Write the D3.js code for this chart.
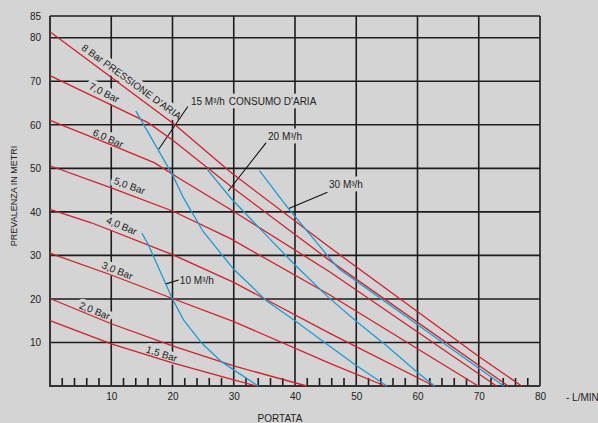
<!DOCTYPE html>
<html>
<head>
<meta charset="utf-8">
<script src="https://cdn.jsdelivr.net/npm/d3@7"></script>
<style>
  html, body { margin: 0; padding: 0; background: #d4d4d4; }
  svg { display: block; font-family: "Liberation Sans", Arial, sans-serif; }
  .grid { stroke: #1c1c1c; stroke-width: 1.6; }
  .axis-line { stroke: #333; stroke-width: 2; }
  .tick-lbl { font-size: 10px; fill: #222; }
  .note { font-size: 10px; fill: #222; paint-order: stroke; stroke: #d4d4d4; stroke-width: 7px; stroke-linejoin: round; }
  .leader { stroke: #111; stroke-width: 1.1; }
  .pressure { fill: none; stroke: #d0202c; stroke-width: 1.3; }
  .flow { fill: none; stroke: #1d9bd3; stroke-width: 1.3; }
</style>
</head>
<body>
<svg width="598" height="423"></svg>
<script>
const width = 598;
const height = 423;

// Axis ticks
const xTicks = [10, 20, 30, 40, 50, 60, 70, 80];
const yTicks = [10, 20, 30, 40, 50, 60, 70, 80, 85];
const minorTicks = d3.range(2, 80, 2).filter((v) => v % 10 !== 0);

// Pressure curves (L/min, m)
const bar8 = [[0, 81.4], [20.4, 60], [29.4, 49.2], [45.7, 31.8], [69.9, 6.9], [77, 0]];
const bar7 = [[0, 71.3], [16, 60.5], [20, 56.5], [29.4, 46.0], [45.7, 28.8], [74.8, 0]];
const bar6 = [[0, 61], [10, 55.4], [17, 51.3], [21.2, 47.6], [29.4, 40.6], [45.7, 26.2], [72.9, 0]];
const bar5 = [[0, 50.6], [10, 45.5], [20, 40.2], [29.4, 33.9], [45.7, 20.9], [69.9, 0]];
const bar4 = [[0, 40.6], [6.75, 37.5], [20, 30.2], [30, 23.8], [45.7, 12.1], [62.7, 0]];
const bar3 = [[0, 30.5], [10, 25.5], [20, 20.1], [30, 14.8], [45.7, 5.2], [54.7, 0]];
const bar2 = [[0, 20.1], [10, 14.3], [20, 9.2], [30, 4.6], [41.9, 0]];
const bar15 = [[0, 15.0], [10, 9.7], [20, 5.3], [30, 1.4], [33.7, 0]];

// Air consumption curves
const air10 = [[15.0, 35.1], [16.0, 32.6], [18.8, 23.8], [20, 20.0], [21.8, 15.2], [24.8, 9.8], [28, 5.6], [30, 3.7], [34, 0]];
const air15 = [[14, 63.2], [20, 48.5], [21.8, 43.2], [25, 35.5], [30, 26.8], [35.4, 19.5], [40, 15], [45, 9.8], [50, 4.7], [55, 0]];
const air20 = [[25.7, 49.7], [29.5, 43.2], [35.4, 34.5], [40, 27.8], [45.5, 20.3], [50, 14.9], [55, 9.2], [60, 3.1], [62.8, 0]];
const air30 = [[34.2, 49.5], [38.9, 40.8], [45.7, 29.3], [47.1, 27.0], [74.1, 0]];

const pressureSeries = [bar8, bar7, bar6, bar5, bar4, bar3, bar2, bar15];
const airSeries = [air10, air15, air20, air30];

// Curve labels: text, anchor point, rotation
const pressureLabels = ["8 Bar PRESSIONE D'ARIA", "7,0 Bar", "6,0 Bar", "5,0 Bar", "4,0 Bar", "3,0 Bar", "2,0 Bar", "1,5 Bar"];
const pressureLabelPos = [[13.3, 69.9], [8.85, 67.4], [9.5, 56.9], [13.0, 46.0], [11.7, 36.8], [11.0, 26.5], [7.3, 17.3], [18.25, 7.4]];
const pressureLabelAngle = [36, 27, 24, 20, 23, 22, 22, 18];

const airLabels = ["15 M³/h", "CONSUMO D'ARIA", "20 M³/h", "30 M³/h", "10 M³/h"];
const airLabelPos = [[23.0, 65.3], [29.2, 65.3], [35.6, 57.3], [45.55, 46.2], [21.2, 24.35]];
const leaders = [
  [[22.5, 64.2], [17.75, 54.4]],
  [[35.3, 55.9], [29.1, 44.8]],
  [[45.3, 44.5], [38.9, 40.7]],
  [[21.0, 24.35], [18.8, 23.4]],
];

const svg = d3.select("svg");
const x = d3.scaleLinear().domain([0, 80]).range([50, 540]);
const y = d3.scaleLinear().domain([0, 85]).range([386, 16]);

// Grid
svg.selectAll(".hgrid")
  .data(yTicks)
  .enter()
  .append("line")
  .attr("class", "grid")
  .attr("x1", x(0))
  .attr("x2", x(80))
  .attr("y1", (d) => y(d))
  .attr("y2", (d) => y(d));

svg.selectAll(".vgrid")
  .data(xTicks)
  .enter()
  .append("line")
  .attr("class", "grid")
  .attr("x1", (d) => x(d))
  .attr("x2", (d) => x(d))
  .attr("y1", y(0))
  .attr("y2", y(85));

// Minor ticks on the flow axis
svg.selectAll(".minor")
  .data(minorTicks)
  .enter()
  .append("line")
  .attr("class", "grid")
  .attr("x1", (d) => x(d))
  .attr("x2", (d) => x(d))
  .attr("y1", y(0))
  .attr("y2", y(0) - 8);

svg.append("line").attr("class", "axis-line")
  .attr("x1", x(0)).attr("x2", x(0)).attr("y1", y(0) + 1).attr("y2", y(85));
svg.append("line").attr("class", "axis-line")
  .attr("x1", x(0)).attr("x2", x(80)).attr("y1", y(0)).attr("y2", y(0));

// Tick labels
const xAxis = svg.append("g")
  .attr("transform", `translate(0,${y(0) + 7})`)
  .call(d3.axisBottom(x).tickValues(xTicks).tickSize(0).tickPadding(0));
const yAxis = svg.append("g")
  .attr("transform", `translate(${x(0) - 9},0)`)
  .call(d3.axisLeft(y).tickValues(yTicks).tickSize(0).tickPadding(0));
[xAxis, yAxis].forEach((g) => {
  g.select(".domain").remove();
  g.selectAll("text")
    .attr("class", "tick-lbl")
    .attr("font-family", null)
    .attr("font-size", null);
});

// Axis titles
svg.append("text").attr("class", "tick-lbl")
  .attr("x", 280).attr("y", 422).attr("text-anchor", "middle")
  .text("PORTATA");
svg.append("text").attr("class", "tick-lbl")
  .attr("x", 566).attr("y", 401)
  .text("- L/MIN");
svg.append("text").attr("class", "tick-lbl")
  .attr("transform", "translate(17,196) rotate(-90)")
  .attr("text-anchor", "middle")
  .style("font-size", "9px")
  .text("PREVALENZA IN METRI");

// Curve labels (drawn over the grid, under the curves)
svg.selectAll(".plabel")
  .data(pressureLabels)
  .enter()
  .append("text")
  .attr("class", "note")
  .attr("text-anchor", "middle")
  .attr("dy", "0.35em")
  .attr("transform", (d, i) =>
    `translate(${x(pressureLabelPos[i][0])},${y(pressureLabelPos[i][1])}) rotate(${pressureLabelAngle[i]})`)
  .text((d) => d);

svg.selectAll(".alabel")
  .data(airLabels)
  .enter()
  .append("text")
  .attr("class", "note")
  .attr("x", (d, i) => x(airLabelPos[i][0]))
  .attr("y", (d, i) => y(airLabelPos[i][1]))
  .attr("dy", "0.35em")
  .text((d) => d);

svg.selectAll(".leader")
  .data(leaders)
  .enter()
  .append("line")
  .attr("class", "leader")
  .attr("x1", (d) => x(d[0][0]))
  .attr("y1", (d) => y(d[0][1]))
  .attr("x2", (d) => x(d[1][0]))
  .attr("y2", (d) => y(d[1][1]));

// Curves
const line = d3.line()
  .x((d) => x(d[0]))
  .y((d) => y(d[1]));

svg.selectAll(".pressure")
  .data(pressureSeries)
  .enter()
  .append("path")
  .attr("class", "pressure")
  .attr("d", line);

svg.selectAll(".flow")
  .data(airSeries)
  .enter()
  .append("path")
  .attr("class", "flow")
  .attr("d", line);
</script>
</body>
</html>
